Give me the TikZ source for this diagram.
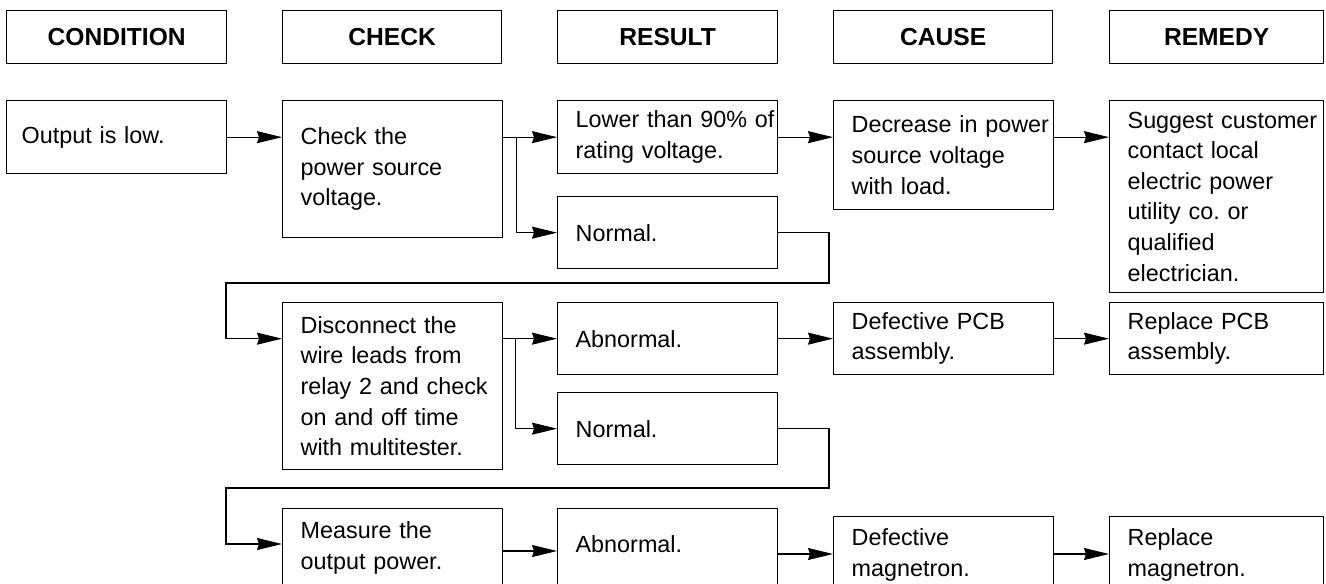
\documentclass[tikz,border=0pt]{standalone}
\usepackage{fontspec}
\setmainfont{Liberation Sans}
\usepackage{tikz}
\usetikzlibrary{arrows.meta, positioning}
\frenchspacing

\tikzset{
  hdr/.style={draw, line width=0.75pt, anchor=north west, inner sep=0pt,
    minimum width=4.4cm, minimum height=1.06cm,
    font=\fontsize{14}{17.4}\selectfont\bfseries},
  lpad/.style={execute at begin node={\leftskip=#1}},
  box/.style={draw, line width=0.75pt, anchor=north west, inner sep=0pt,
    text width=4.4cm, align=left, lpad=0.36cm,
    font=\fontsize{13.3}{17.4}\selectfont},
  lastbox/.style={box, text depth=2cm},
  link/.style={->, line width=0.6pt}
}

\begin{document}
\begin{tikzpicture}[x=0.02cm, y=-0.02cm,
  >={Stealth[length=0.5cm, width=0.24cm, inset=0.04cm]}]
  \useasboundingbox (0,0) rectangle (1326,583);
  \clip (0,0) rectangle (1326,583);
  % En-tetes
  \node[hdr] (hcond) at (6,10) {CONDITION};
  \node[hdr, minimum width=4.38cm] (hchk) at (282,10) {CHECK};
  \node[hdr] (hres) at (557,10) {RESULT};
  \node[hdr, minimum width=4.38cm] (hcau) at (833,10) {CAUSE};
  \node[hdr, minimum width=4.28cm] (hrem) at (1109,10) {REMEDY};
  % Ligne 1
  \node[box, lpad=0.3cm, minimum height=1.46cm] (out) at (6,100) {Output is low.};
  \node[box, minimum height=2.74cm] (chk) at (282,100) {Check the\\power source\\voltage.};
  \node[box, minimum height=1.46cm] (low) at (557,100) {Lower than 90\% of\\rating voltage.};
  \node[box, minimum height=1.44cm] (nor1) at (557,196) {Normal.};
  \node[box, minimum height=2.18cm] (dec) at (833,100) {Decrease in power\\source voltage\\with load.};
  \node[box, text width=4.28cm, minimum height=3.84cm] (sug) at (1109,100)
    {Suggest customer\\contact local\\electric power\\utility co. or\\qualified\\electrician.};
  % Ligne 2
  \node[box, minimum height=3.34cm] (dis) at (282,302)
    {Disconnect the\\wire leads from\\relay 2 and check\\on and off time\\with multitester.};
  \node[box, minimum height=1.44cm] (ab2) at (557,302) {Abnormal.};
  \node[box, minimum height=1.44cm] (nor2) at (557,392) {Normal.};
  \node[box, minimum height=1.44cm] (pcb) at (833,302) {Defective PCB\\assembly.};
  \node[box, text width=4.28cm, minimum height=1.44cm] (rpcb) at (1109,302) {Replace PCB\\assembly.};
  % Ligne 3
  \node[lastbox, text height=0.6cm] (mea) at (282,508) {Measure the\\output power.};
  \node[lastbox, text height=0.88cm] (ab3) at (557,508) {Abnormal.};
  \node[lastbox, text height=0.58cm] (dm) at (833,516) {Defective\\magnetron.};
  \node[lastbox, text width=4.28cm, text height=0.58cm] (rm) at (1109,516) {Replace\\magnetron.};
  % Points de renvoi
  \coordinate (l1) at (829,283);
  \coordinate (l1e) at (226,283);
  \coordinate (l2) at (829,488);
  \coordinate (l2e) at (226,488);
  \coordinate (r3) at (0,544);
  \coordinate (r3b) at (0,551);
  \coordinate (r3c) at (0,554);
  % Fleches ligne 1
  \draw[link] (out.east) -- (chk.west |- out.east);
  \draw[link] (chk.east |- low.west) -- (low.west);
  \draw[link] (chk.east |- low.west) ++(13,0) |- (nor1.west);
  \draw[link] (low.east) -- (dec.west |- low.east);
  \draw[link] (dec.east |- low.east) -- (sug.west |- low.east);
  \draw[link] (nor1.east) -| (l1) -- (l1e) |- (dis.west |- ab2.west);
  % Fleches ligne 2
  \draw[link] (dis.east |- ab2.west) -- (ab2.west);
  \draw[link] (dis.east |- ab2.west) ++(12,0) |- (nor2.west);
  \draw[link] (ab2.east) -- (pcb.west);
  \draw[link] (pcb.east) -- (rpcb.west);
  \draw[link] (nor2.east) -| (l2) -- (l2e) |- (mea.west |- r3);
  % Fleches ligne 3
  \draw[link] (mea.east |- r3b) -- (ab3.west |- r3b);
  \draw[link] (ab3.east |- r3c) -- (dm.west |- r3c);
  \draw[link] (dm.east |- r3c) -- (rm.west |- r3c);
\end{tikzpicture}
\end{document}
